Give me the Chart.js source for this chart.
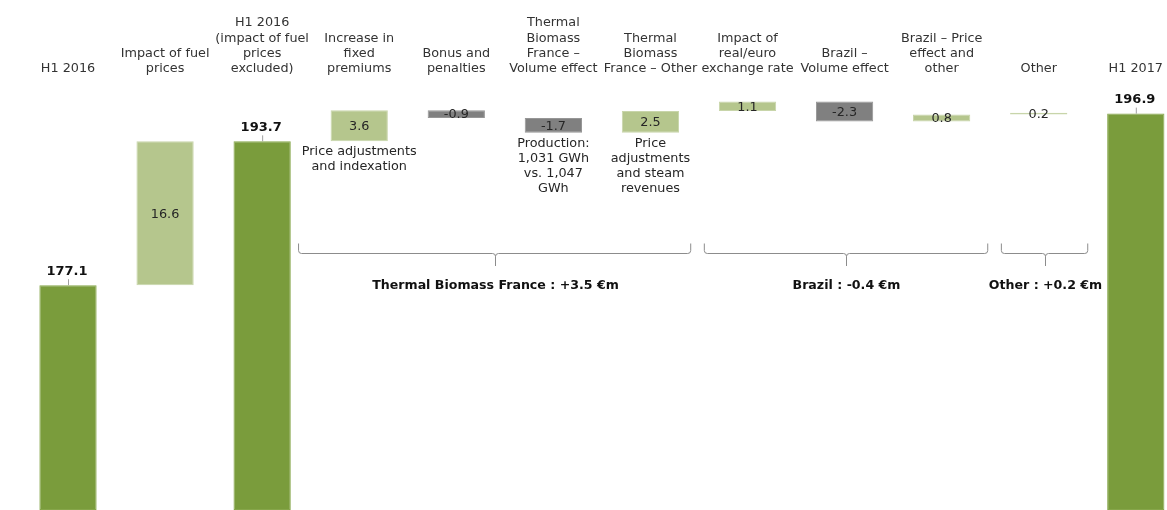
<!DOCTYPE html>
<html>
<head>
<meta charset="utf-8">
<script src="https://cdn.jsdelivr.net/npm/chart.js@4.4.0/dist/chart.umd.min.js"></script>
<style>
  html, body { margin: 0; padding: 0; background: #fff; overflow: hidden; }
  #wrap { position: relative; width: 1167px; height: 510px; }
</style>
</head>
<body>
<div id="wrap"><canvas id="waterfall"></canvas></div>
<script>
// categories (multi-line labels as shown)
const categories = [
  ['H1 2016'],
  ['Impact of fuel', 'prices'],
  ['H1 2016', '(impact of fuel', 'prices', 'excluded)'],
  ['Increase in', 'fixed', 'premiums'],
  ['Bonus and', 'penalties'],
  ['Thermal', 'Biomass', 'France –', 'Volume effect'],
  ['Thermal', 'Biomass', 'France – Other'],
  ['Impact of', 'real/euro', 'exchange rate'],
  ['Brazil –', 'Volume effect'],
  ['Brazil – Price', 'effect and', 'other'],
  ['Other'],
  ['H1 2017']
];
// values in €m: totals are levels, the rest are variations
const values = [177.1, 16.6, 193.7, 3.6, -0.9, -1.7, 2.5, 1.1, -2.3, 0.8, 0.2, 196.9];
const isTotal = [true, false, true, false, false, false, false, false, false, false, false, true];
// comments printed below some bars
const notes = [
  null, null, null,
  ['Price adjustments', 'and indexation'],
  null,
  ['Production:', '1,031 GWh', 'vs. 1,047', 'GWh'],
  ['Price', 'adjustments', 'and steam', 'revenues'],
  null, null, null, null, null
];
// groups under the bars
const groupLabels = ['Thermal Biomass France : +3.5 €m', 'Brazil : -0.4 €m', 'Other : +0.2 €m'];
const groupFrom = [3, 7, 10];
const groupTo = [6, 9, 10];

const Y_MIN = 151.16;
const Y_MAX = 200.7;

const FONT = '"DejaVu Sans", Verdana, sans-serif';
const DARK = '#7a9c3c';
const LIGHT = '#b5c68d';
const GREY = '#808080';

// build floating ranges for the waterfall
let running = 0;
const ranges = values.map((v, i) => {
  if (isTotal[i]) {
    running = v;
    return [Y_MIN, v];
  }
  const start = running;
  running = +(running + v).toFixed(2);
  return [start, running];
});
const fills = values.map((v, i) => isTotal[i] ? DARK : (v >= 0 ? LIGHT : GREY));
const edges = values.map((v, i) => isTotal[i] ? '#86a64a' : (v >= 0 ? '#c8d5aa' : '#969696'));

// value labels, notes and group brackets
const waterfallLabels = {
  id: 'waterfallLabels',
  afterDatasetsDraw(chart, args, opts) {
    const ctx = chart.ctx;
    const meta = chart.getDatasetMeta(0);
    const xs = chart.scales.x;
    const step = xs.getPixelForTick(1) - xs.getPixelForTick(0);
    ctx.save();
    ctx.textAlign = 'center';
    ctx.textBaseline = 'middle';

    meta.data.forEach((bar, i) => {
      const top = Math.min(bar.y, bar.base);
      const bottom = Math.max(bar.y, bar.base);
      if (isTotal[i]) {
        ctx.strokeStyle = '#a0a0a0';
        ctx.lineWidth = 1;
        ctx.beginPath();
        ctx.moveTo(bar.x + 0.5, top - 6);
        ctx.lineTo(bar.x + 0.5, top);
        ctx.stroke();
        ctx.fillStyle = '#111';
        ctx.font = 'bold 13px ' + FONT;
        ctx.fillText(values[i].toFixed(1), bar.x - 1, top - 14);
      } else {
        ctx.fillStyle = '#262626';
        ctx.font = '12.8px ' + FONT;
        ctx.fillText(values[i].toFixed(1), bar.x, (top + bottom) / 2 + 1);
      }
      if (notes[i]) {
        ctx.fillStyle = '#262626';
        ctx.font = '12.8px ' + FONT;
        notes[i].forEach((line, k) => {
          ctx.fillText(line, bar.x, bottom + 10.5 + k * 15.3);
        });
      }
    });

    // brackets
    ctx.strokeStyle = '#8c8c8c';
    ctx.lineWidth = 1;
    groupLabels.forEach((label, g) => {
      const pad = opts.pads[g];
      const x0 = xs.getPixelForTick(groupFrom[g]) - pad[0] * step;
      const x1 = xs.getPixelForTick(groupTo[g]) + pad[1] * step;
      const xm = Math.round((x0 + x1) / 2) + 0.5;
      const yTop = 243.5, yLine = 253.5, yTip = 266, r = 3;
      ctx.beginPath();
      ctx.moveTo(x0 + 0.5, yTop);
      ctx.arcTo(x0 + 0.5, yLine, x0 + 0.5 + r, yLine, r);
      ctx.lineTo(xm - r, yLine);
      ctx.arcTo(xm, yLine, xm, yLine + r, r);
      ctx.lineTo(xm, yTip);
      ctx.moveTo(xm, yLine + r);
      ctx.arcTo(xm, yLine, xm + r, yLine, r);
      ctx.lineTo(x1 - 0.5 - r, yLine);
      ctx.arcTo(x1 - 0.5, yLine, x1 - 0.5, yTop, r);
      ctx.lineTo(x1 - 0.5, yTop);
      ctx.stroke();
      ctx.fillStyle = '#111';
      ctx.font = 'bold 12.6px ' + FONT;
      ctx.fillText(label, xm, 285.5);
    });
    ctx.restore();
  }
};

const ctx = document.getElementById('waterfall').getContext('2d');
const chart = new Chart(ctx, {
  type: 'bar',
  data: {
    labels: categories,
    datasets: [{
      data: ranges,
      backgroundColor: fills,
      borderColor: edges,
      borderWidth: 1,
      borderSkipped: false,
      barPercentage: 1,
      categoryPercentage: 0.59,
      clip: false
    }]
  },
  options: {
    responsive: true,
    maintainAspectRatio: false,
    animation: false,
    layout: {
      padding: { left: 68, right: 28.5, top: 11.5, bottom: 0 }
    },
    scales: {
      x: {
        position: 'top',
        offset: false,
        grid: { display: false, drawTicks: false },
        border: { display: false },
        ticks: {
          autoSkip: false,
          maxRotation: 0,
          minRotation: 0,
          padding: 4,
          color: '#333',
          font: { family: FONT, size: 12.8, lineHeight: 1.195 }
        }
      },
      y: {
        display: false,
        min: Y_MIN,
        max: Y_MAX
      }
    },
    plugins: {
      legend: { display: false },
      tooltip: { enabled: false },
      waterfallLabels: {
        pads: [[0.63, 0.42], [0.45, 0.48], [0.39, 0.51]]
      }
    }
  },
  plugins: [waterfallLabels]
});
</script>
</body>
</html>
